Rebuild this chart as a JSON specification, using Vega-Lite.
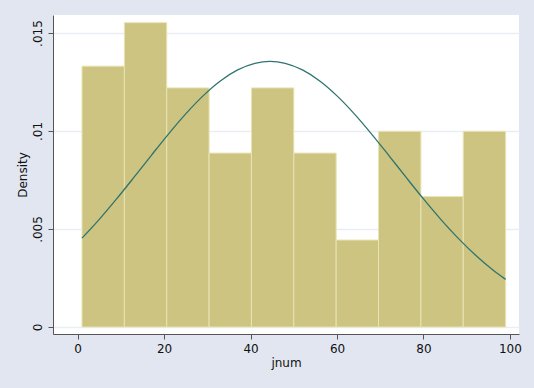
{
  "$schema": "https://vega.github.io/schema/vega-lite/v6.json",
  "width": 466,
  "height": 319,
  "autosize": "none",
  "padding": {"left": 53, "top": 15, "right": 15, "bottom": 54},
  "background": "#E1E6F0",
  "config": {
    "view": {"fill": "white", "stroke": null},
    "font": "DejaVu Sans"
  },
  "datasets": {
    "bars": [
      {"bin_start": 1.0, "bin_end": 10.8, "count": 12, "density": 0.013310},
      {"bin_start": 10.8, "bin_end": 20.6, "count": 14, "density": 0.015528},
      {"bin_start": 20.6, "bin_end": 30.4, "count": 11, "density": 0.012201},
      {"bin_start": 30.4, "bin_end": 40.2, "count": 8, "density": 0.008873},
      {"bin_start": 40.2, "bin_end": 50.0, "count": 11, "density": 0.012201},
      {"bin_start": 50.0, "bin_end": 59.8, "count": 8, "density": 0.008873},
      {"bin_start": 59.8, "bin_end": 69.6, "count": 4, "density": 0.004437},
      {"bin_start": 69.6, "bin_end": 79.4, "count": 9, "density": 0.009982},
      {"bin_start": 79.4, "bin_end": 89.2, "count": 6, "density": 0.006655},
      {"bin_start": 89.2, "bin_end": 99.0, "count": 9, "density": 0.009982}
    ],
    "curve": [
      {"jnum": 1, "d": 0.004535},
      {"jnum": 5, "d": 0.005495},
      {"jnum": 9, "d": 0.006536},
      {"jnum": 13, "d": 0.007632},
      {"jnum": 17, "d": 0.008749},
      {"jnum": 21, "d": 0.009845},
      {"jnum": 25, "d": 0.010875},
      {"jnum": 29, "d": 0.011792},
      {"jnum": 33, "d": 0.012552},
      {"jnum": 37, "d": 0.013116},
      {"jnum": 41, "d": 0.013454},
      {"jnum": 44.5, "d": 0.01355},
      {"jnum": 48, "d": 0.013454},
      {"jnum": 52, "d": 0.013116},
      {"jnum": 56, "d": 0.012552},
      {"jnum": 60, "d": 0.011792},
      {"jnum": 64, "d": 0.010875},
      {"jnum": 68, "d": 0.009845},
      {"jnum": 72, "d": 0.008749},
      {"jnum": 76, "d": 0.007632},
      {"jnum": 80, "d": 0.006536},
      {"jnum": 84, "d": 0.005495},
      {"jnum": 88, "d": 0.004535},
      {"jnum": 92, "d": 0.003674},
      {"jnum": 96, "d": 0.002922},
      {"jnum": 99, "d": 0.002431}
    ]
  },
  "layer": [
    {
      "data": {"name": "bars"},
      "mark": {"type": "rect", "fill": "#CCC480", "stroke": "#E9E3B3", "strokeWidth": 1},
      "encoding": {
        "x": {
          "field": "bin_start", "type": "quantitative",
          "scale": {"domain": [-5.71, 102.1], "nice": false, "zero": false},
          "axis": {
            "title": "jnum", "values": [0, 20, 40, 60, 80, 100],
            "grid": false, "domainColor": "#555555", "tickColor": "#555555",
            "tickSize": 5, "labelFontSize": 12, "labelColor": "#111111",
            "labelPadding": 4, "titleFontSize": 12, "titleFontWeight": "normal",
            "titleColor": "#111111", "titlePadding": 3, "offset": 0
          }
        },
        "x2": {"field": "bin_end"},
        "y": {
          "field": "density", "type": "quantitative",
          "scale": {"domain": [-0.000357, 0.01592], "nice": false, "zero": false},
          "axis": {
            "title": "Density", "values": [0, 0.005, 0.01, 0.015],
            "labelExpr": "datum.value == 0 ? '0' : replace(format(datum.value, '.3~f'), '0.', '.')",
            "grid": true, "gridColor": "#EAEEF4", "gridWidth": 1.5,
            "domainColor": "#555555", "tickColor": "#555555", "tickSize": 5,
            "labelAngle": -90, "labelAlign": "center", "labelBaseline": "bottom",
            "labelFontSize": 12, "labelColor": "#111111", "labelPadding": 4,
            "titleFontSize": 12, "titleFontWeight": "normal", "titleColor": "#111111",
            "titlePadding": 2
          }
        },
        "y2": {"datum": 0}
      }
    },
    {
      "data": {"name": "curve"},
      "mark": {"type": "line", "color": "#2E7470", "strokeWidth": 1.3, "interpolate": "monotone"},
      "encoding": {
        "x": {"field": "jnum", "type": "quantitative"},
        "y": {"field": "d", "type": "quantitative"}
      }
    }
  ]
}
